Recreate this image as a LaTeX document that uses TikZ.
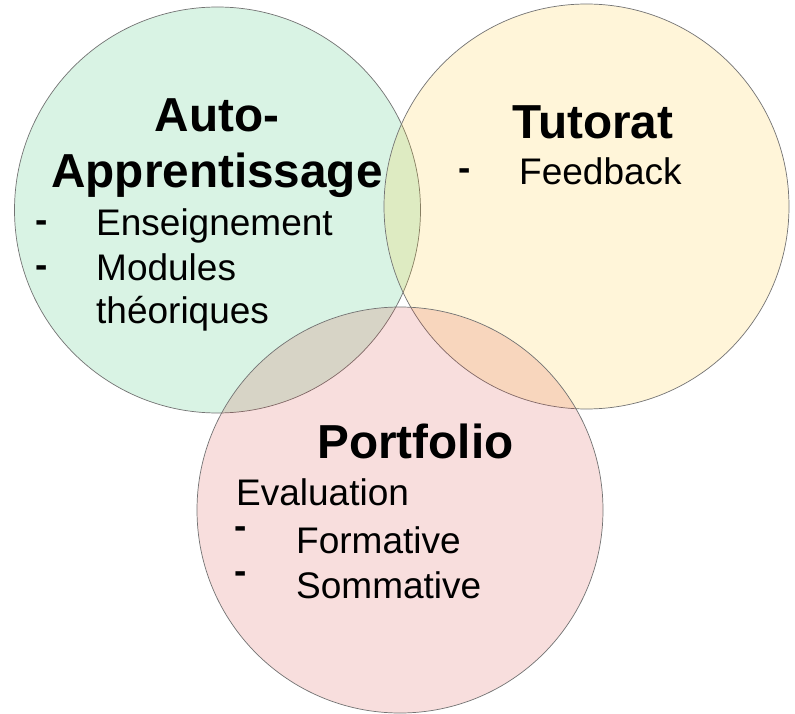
\documentclass[tikz,border=0pt]{standalone}
\usepackage{fontspec}
\setmainfont{Liberation Sans}
\definecolor{vertAuto}{RGB}{0,176,80}
\definecolor{jauneTut}{RGB}{255,192,0}
\definecolor{rougePort}{RGB}{210,40,30}
\tikzset{
	cercle/.style={draw=gray!90!black, line width=0.7pt, fill opacity=0.15},
	titre/.style={anchor=base, inner sep=0pt, font=\fontsize{47.7}{47.7}\selectfont\bfseries},
	texte/.style={anchor=base west, inner sep=0pt, font=\fontsize{37}{37}\selectfont},
	tiret/.style={anchor=base west, inner sep=0pt, font=\fontsize{37}{37}\selectfont\bfseries}
}

\begin{document}
\begin{tikzpicture}[x=1pt,y=-1pt]
	\fill[white] (0,0) rectangle (795,714);
	\useasboundingbox (0,0) rectangle (795,714);

	% Les trois cercles
	\draw[cercle, fill=vertAuto] (217.5,210) circle (203pt);
	\draw[cercle, fill=jauneTut] (586.5,206.5) circle (202.5pt);
	\draw[cercle, fill=rougePort] (400,510) circle (203pt);

	% Auto-apprentissage
	\node[titre] (auto) at (217,132) {Auto-};
	\node[titre] (apprent) at (217,188) {Apprentissage};
	\node[tiret] (tiretA) at (35.4,233) {-};
	\node[texte] (ens) at (96,235.5) {Enseignement};
	\node[tiret] (tiretB) at (35.4,277) {-};
	\node[texte] (mod) at (96,280) {Modules};
	\node[texte] (theo) at (96,323) {théoriques};

	% Tutorat
	\node[titre] (tut) at (593,139) {Tutorat};
	\node[tiret] (tiretC) at (458.4,181) {-};
	\node[texte] (feed) at (519,184.5) {Feedback};

	% Portfolio
	\node[titre] (port) at (415.5,458) {Portfolio};
	\node[texte] (eval) at (236,505) {Evaluation};
	\node[tiret] (tiretD) at (234.5,538) {-};
	\node[texte] (form) at (296,553) {Formative};
	\node[tiret] (tiretE) at (234.5,583) {-};
	\node[texte] (somm) at (296,598) {Sommative};
\end{tikzpicture}
\end{document}
